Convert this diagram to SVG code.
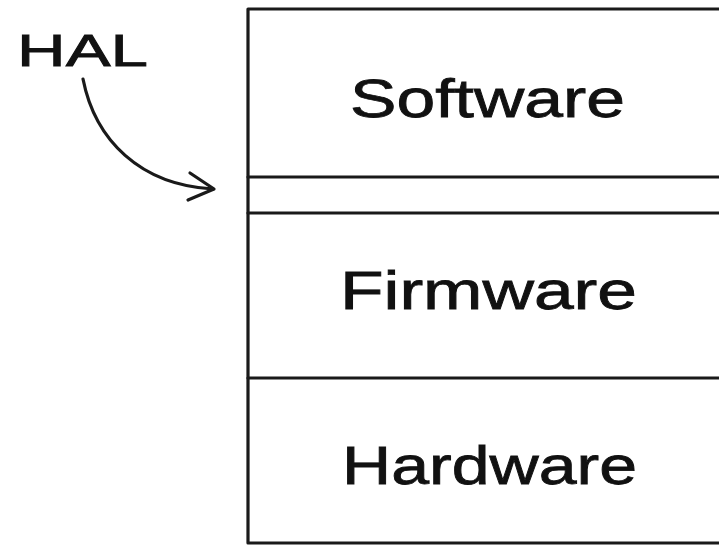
<svg xmlns="http://www.w3.org/2000/svg" width="719" height="546" viewBox="0 0 719 546">
<style>
.ln{fill:none;stroke:#1a1a1a;stroke-width:3.2;stroke-linecap:round;stroke-linejoin:round}
.lbl{font-family:"Liberation Sans","DejaVu Sans",sans-serif;font-size:54px;fill:#111;stroke:#111;stroke-width:0.8}
</style>
<rect x="0" y="0" width="719" height="546" fill="#fff"/>
<g id="stack">
<path class="ln" d="M730,9 L248,9 L248,543 L730,543"/>
</g>
<g id="software">
<text class="lbl" x="350" y="117" textLength="275" lengthAdjust="spacingAndGlyphs">Software</text>
</g>
<g id="hal-layer">
<path class="ln" d="M248,177 L730,177 M248,213 L730,213"/>
</g>
<g id="firmware">
<path class="ln" d="M248,378 L730,378"/>
<text class="lbl" x="340" y="309" textLength="297" lengthAdjust="spacingAndGlyphs">Firmware</text>
</g>
<g id="hardware">
<text class="lbl" x="342" y="484" textLength="295" lengthAdjust="spacingAndGlyphs">Hardware</text>
</g>
<g id="hal">
<text class="lbl" x="17" y="66" style="font-size:44px" textLength="131" lengthAdjust="spacingAndGlyphs">HAL</text>
</g>
<g id="connectors">
<path class="ln" d="M83,79 C95,140 140,185 213,189"/>
<path class="ln" d="M190,173 L214,189 L188,200"/>
</g>
</svg>
